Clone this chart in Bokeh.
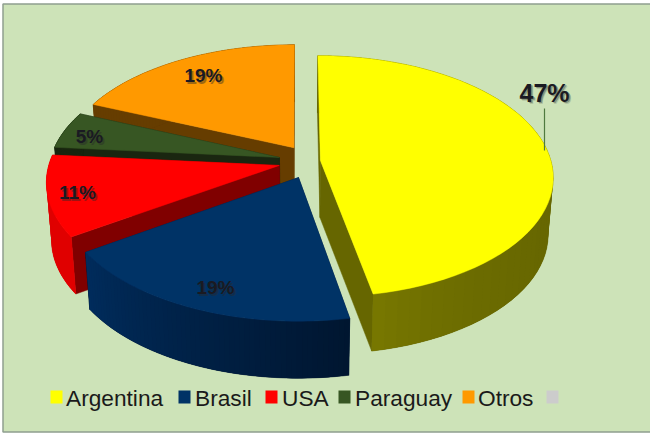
import math
from bokeh.plotting import figure
from bokeh.models import Range1d, ColumnDataSource
from bokeh.core.properties import value
from bokeh.embed import file_html
from bokeh.resources import INLINE

# ---- data ----
categories = ["Argentina", "Brasil", "USA", "Paraguay", "Otros"]
shares = [47.0, 18.6, 10.8, 5.0, 18.6]
top_colors = ["#ffff00", "#003366", "#ff0000", "#375623", "#ff9900"]
cut_colors = ["#666600", "#001f40", "#800000", "#1a2610", "#663d00"]
side_start = ["#666600", "#001630", "#e00000", "#1a2610", "#663d00"]
side_end = ["#787800", "#002c5c", "#e00000", "#1a2610", "#663d00"]
side_power = [7, 1, 1, 1, 1]
blank_legend_color = "#cccccc"

# ---- layout (page pixels) ----
BG = "#cde3b8"
X0, Y0, RX, RY, P = 298.0, 157.0, 232.0, 118.9, 0.132
DROP, BASE_X = 57.0, 0.98
explode_a = [0.094, 0.0, -0.082, -0.082, -0.02]
explode_b = [-0.025, -0.165, -0.066, 0.0, 0.083]
radius = [0.99, 1.0, 0.985, 0.985, 1.0]
label_xy = [(544, 92), (215, 287), (77, 192), (89, 136), (203, 75)]
legend_sq_x = [50, 178, 265, 338, 462, 546]
legend_txt_x = [65.5, 194.5, 281.5, 354.5, 477.5]


def top_pt(a, b):
    w = 1 + P * b
    return X0 + RX * a / w, Y0 - RY * b / w


def base_pt(a, b):
    x, y = top_pt(a, b)
    return X0 + (x - X0) * BASE_X, y + DROP


def mix(c1, c2, t):
    v1 = [int(c1[i:i + 2], 16) for i in (1, 3, 5)]
    v2 = [int(c2[i:i + 2], 16) for i in (1, 3, 5)]
    return "#%02x%02x%02x" % tuple(round(p + (q - p) * t) for p, q in zip(v1, v2))


p = figure(width=650, height=433, output_backend="svg", toolbar_location=None,
           x_range=Range1d(0, 650), y_range=Range1d(433, 0), min_border=0)
p.axis.visible = False
p.grid.visible = False
p.outline_line_color = None
p.background_fill_color = "#ffffff"
p.border_fill_color = "#ffffff"

# chart panel, open past the right edge as in the reference
p.quad(left=[2.5], right=[665], top=[3.5], bottom=[431.5], fill_color=BG,
       line_color="#8f9f8f", line_width=1.5)

# slice angle spans
spans, acc = [], 0.0
for s in shares:
    spans.append((acc * 3.6, (acc + s) * 3.6))
    acc += s

xs, ys, fills, edge_alpha = [], [], [], []


def add(poly, color, edge=1.0):
    xs.append([q[0] for q in poly])
    ys.append([q[1] for q in poly])
    fills.append(color)
    edge_alpha.append(edge)


# painter's order: back slices first, Argentina last
for i in [4, 3, 2, 1, 0]:
    a0, b0, r = explode_a[i], explode_b[i], radius[i]
    t0, t1 = spans[i]
    N = 60
    ring = []
    for k in range(N + 1):
        th = math.radians(t0 + (t1 - t0) * k / N)
        ring.append((a0 + r * math.sin(th), b0 + r * math.cos(th)))
    c = (a0, b0)
    # cut faces
    for e in (ring[0], ring[-1]):
        add([top_pt(*c), top_pt(*e), base_pt(*e), base_pt(*c)], cut_colors[i])
    # wall underlay, so the strips leave no seams
    add([top_pt(*q) for q in ring] + [base_pt(*q) for q in reversed(ring)], side_start[i])
    # outer wall in shaded strips, each overlapping the next
    for k in range(N):
        t = ((k + 0.5) / N) ** side_power[i]
        e = min(k + 2, N)
        add([top_pt(*ring[k]), top_pt(*ring[e]), base_pt(*ring[e]), base_pt(*ring[k])],
            mix(side_start[i], side_end[i], t), 0.0)
    # top face
    add([top_pt(*c)] + [top_pt(*q) for q in ring], top_colors[i])

src = ColumnDataSource(dict(xs=xs, ys=ys, fill=fills, edge=edge_alpha))
p.patches("xs", "ys", source=src, fill_color="fill", line_color="fill", line_alpha="edge",
          line_width=0.5)

# leader line of the 47% label
p.line([544, 544], [108, 150], line_color="#4f7a3f", line_width=1.2)

# data labels with a soft shadow
font = value("Liberation Sans")
for i, (lx, ly) in enumerate(label_xy):
    txt = f"{round(shares[i])}%"
    size = "25px" if i == 0 else "19px"
    for off, alpha in ((2.2, 0.18), (1.5, 0.35)):
        p.text([lx + off], [ly + off], text=[txt], text_font=font, text_font_style="bold",
               text_font_size=size, text_align="center", text_baseline="middle",
               text_color="#2a2a2a", text_alpha=alpha)
    p.text([lx], [ly], text=[txt], text_font=font, text_font_style="bold",
           text_font_size=size, text_align="center", text_baseline="middle",
           text_color="#1a1a22")

# legend
sq_colors = top_colors + [blank_legend_color]
p.quad(left=legend_sq_x, right=[x + 12 for x in legend_sq_x],
       top=[390] * 6, bottom=[403] * 6, fill_color=sq_colors, line_color=None)
p.text(legend_txt_x, [397] * 5, text=categories, text_font=font, text_font_size="22.7px",
       text_baseline="middle", text_color="#1a1a1a")

open("out.html", "w").write(file_html(p, INLINE))
